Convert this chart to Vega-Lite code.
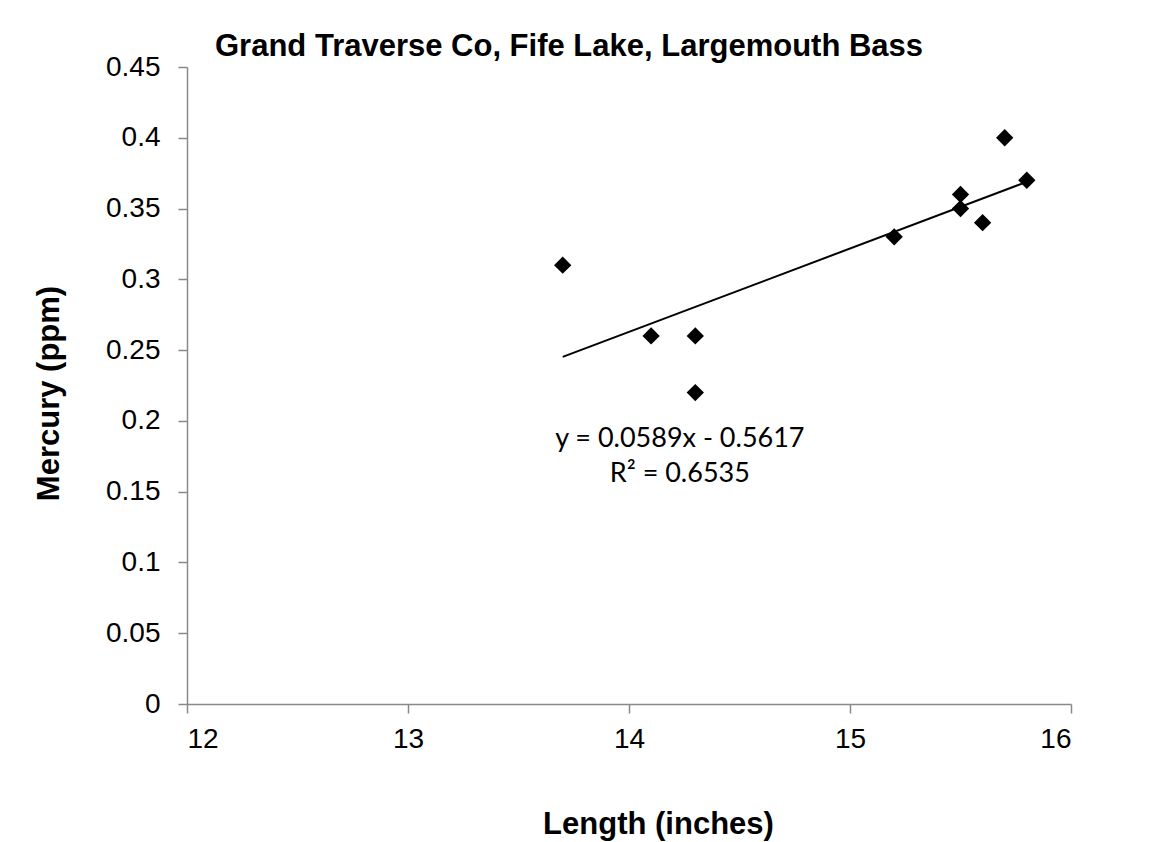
{
  "$schema": "https://vega.github.io/schema/vega-lite/v6.json",
  "width": 884,
  "height": 637,
  "autosize": {"type": "none"},
  "padding": {"left": 187, "top": 67, "right": 85, "bottom": 138},
  "background": "white",
  "config": {
    "font": "Liberation Sans",
    "view": {"stroke": null},
    "axis": {
      "grid": false,
      "domainColor": "#898989",
      "domainWidth": 1.5,
      "tickColor": "#898989",
      "tickWidth": 1.5,
      "tickSize": 9,
      "labelFont": "Liberation Sans",
      "labelFontSize": 28,
      "labelColor": "#000000",
      "titleFont": "Liberation Sans",
      "titleFontSize": 31,
      "titleFontWeight": "bold",
      "titleColor": "#000000"
    }
  },
  "title": {
    "text": "Grand Traverse Co, Fife Lake, Largemouth Bass",
    "font": "Liberation Sans",
    "fontSize": 31,
    "fontWeight": "bold",
    "color": "#000000",
    "anchor": "start",
    "frame": "group",
    "baseline": "alphabetic",
    "dx": 28,
    "dy": 34,
    "offset": 0
  },
  "datasets": {
    "fish": [
      {"length": 13.7, "mercury": 0.31},
      {"length": 14.1, "mercury": 0.26},
      {"length": 14.3, "mercury": 0.26},
      {"length": 14.3, "mercury": 0.22},
      {"length": 15.2, "mercury": 0.33},
      {"length": 15.5, "mercury": 0.36},
      {"length": 15.5, "mercury": 0.35},
      {"length": 15.6, "mercury": 0.34},
      {"length": 15.7, "mercury": 0.40},
      {"length": 15.8, "mercury": 0.37}
    ],
    "notes": [
      {"length": 14.23, "mercury": 0.1816, "label": "y = 0.0589x - 0.5617"},
      {"length": 14.23, "mercury": 0.1568, "label": "R² = 0.6535"}
    ]
  },
  "layer": [
    {
      "data": {"name": "fish"},
      "transform": [{"regression": "mercury", "on": "length"}],
      "mark": {"type": "line", "color": "#000000", "strokeWidth": 2},
      "encoding": {
        "x": {"field": "length", "type": "quantitative"},
        "y": {"field": "mercury", "type": "quantitative"}
      }
    },
    {
      "data": {"name": "fish"},
      "mark": {"type": "point", "shape": "diamond", "filled": true, "color": "#000000", "size": 300, "opacity": 1},
      "encoding": {
        "x": {
          "field": "length",
          "type": "quantitative",
          "scale": {"domain": [12, 16], "nice": false, "zero": false},
          "axis": {
            "title": "Length (inches)",
            "values": [12, 13, 14, 15, 16],
            "format": "d",
            "labelPadding": 12,
            "titleX": 471,
            "titleY": 129,
            "titleAlign": "center",
            "titleBaseline": "alphabetic"
          }
        },
        "y": {
          "field": "mercury",
          "type": "quantitative",
          "scale": {"domain": [0, 0.45], "nice": false},
          "axis": {
            "title": "Mercury (ppm)",
            "values": [0, 0.05, 0.1, 0.15, 0.2, 0.25, 0.3, 0.35, 0.4, 0.45],
            "labelPadding": 18,
            "labelExpr": "datum.value === 0 ? '0' : format(datum.value, '.2~f')",
            "titleX": -129,
            "titleY": 326,
            "titleAngle": -90,
            "titleAlign": "center",
            "titleBaseline": "alphabetic"
          }
        }
      }
    },
    {
      "data": {"name": "notes"},
      "mark": {"type": "text", "font": "Lato", "fontSize": 27, "align": "center", "baseline": "alphabetic", "color": "#000000"},
      "encoding": {
        "x": {"field": "length", "type": "quantitative"},
        "y": {"field": "mercury", "type": "quantitative"},
        "text": {"field": "label"}
      }
    }
  ]
}
